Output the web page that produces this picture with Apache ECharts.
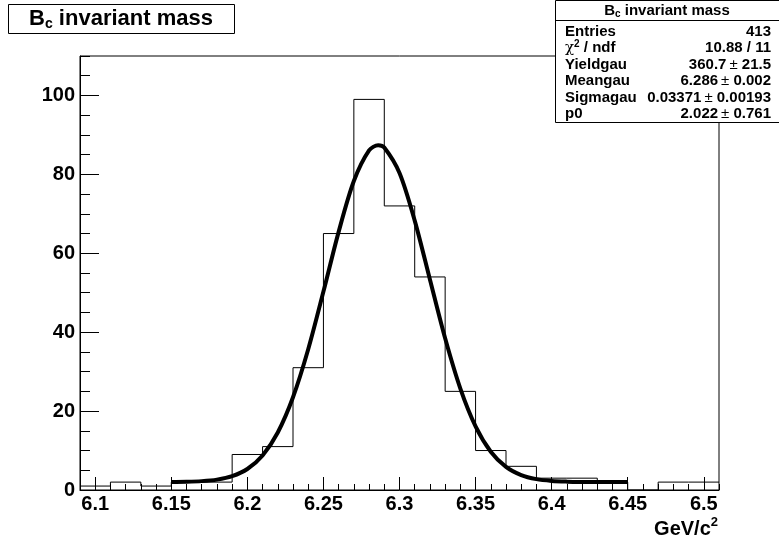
<!DOCTYPE html>
<html><head><meta charset="utf-8">
<script src="https://cdn.jsdelivr.net/npm/echarts@6/dist/echarts.min.js"></script>
<style>html,body{margin:0;padding:0;background:#fff}#c{width:779px;height:543px}</style>
</head><body><div id="c"></div>
<script>
// ---- data ----
const binLow = [6.09,6.11,6.13,6.15,6.17,6.19,6.21,6.23,6.25,6.27,6.29,6.31,6.33,6.35,6.37,6.39,6.41,6.43,6.45,6.47,6.49];
const binHigh = 6.51;
const counts = [1,2,1,2,2,9,11,31,65,99,72,54,25,10,6,3,3,2,0,2,2];
const fitX = [6.15,6.16,6.17,6.18,6.19,6.20,6.21,6.22,6.23,6.24,6.25,6.26,6.27,6.28,6.286,6.29,6.30,6.31,6.32,6.33,6.34,6.35,6.36,6.37,6.38,6.39,6.40,6.41,6.42,6.43,6.44,6.45];
const fitY = [2.05,2.10,2.25,2.63,3.50,5.32,8.75,14.58,23.50,35.67,50.28,65.43,78.30,86.05,87.39,86.79,80.34,68.28,53.35,38.44,25.69,16.10,9.69,5.85,3.77,2.75,2.30,2.12,2.05,2.03,2.02,2.02];
const xTickLabels = [6.1,6.15,6.2,6.25,6.3,6.35,6.4,6.45,6.5];
const yTickLabels = [0,20,40,60,80,100];
const statsLabels = ['Entries','χ2 / ndf','Yieldgau','Meangau','Sigmagau','p0'];
const statsValues = ['413','10.88 / 11','360.7 ± 21.5','6.286 ± 0.002','0.03371 ± 0.00193','2.022 ± 0.761'];

// ---- build ----
const histData = binLow.map((x,i)=>[x,counts[i]]);
histData.push([binHigh, counts[counts.length-1]]);
const fitData = fitX.map((x,i)=>[x,fitY[i]]);
const xMinor = [];
for (let k=610;k<=651;k++){const v=k/100; if(!xTickLabels.some(t=>Math.abs(t-v)<1e-9)) xMinor.push(v);}
const yMinor = [];
for (let v=5; v<=110; v+=5){ if(v%20!==0) yMinor.push(v); }

const FF = 'Liberation Sans, Arial, Helvetica, sans-serif';
const XMIN = 6.09, XMAX = 6.51, YMIN = 0, YMAX = 110;
const SF = 15;

const chart = echarts.init(document.getElementById('c'), null, {renderer:'canvas'});

function valueRich(v){
  if (v.indexOf('±')<0) return '{b|'+v+'}';
  const p = v.split('±');
  return '{b|'+p[0].trim()+'}{pm|±}{b| '+p[1].trim()+'}';
}
const richStats = {
  b:{fontFamily:FF, fontSize:SF, fontWeight:'bold', fill:'#000'},
  pm:{fontFamily:FF, fontSize:SF, fontWeight:'normal', fill:'#000', padding:[0,0,0,3]},
  g:{fontFamily:'DejaVu Serif, serif', fontSize:SF, fill:'#000'},
  s:{fontFamily:FF, fontSize:10, fontWeight:'bold', fill:'#000', padding:[0,0,7,0]}
};
const statsChildren = [];
const rowY0 = 31.5, rowStep = 16.5;
statsLabels.forEach((lab,i)=>{
  const y = rowY0 + i*rowStep;
  const txt = lab.startsWith('χ2') ? '{g|χ}{s|2}{b| / ndf}' : '{b|'+lab+'}';
  statsChildren.push({type:'text', x:565, y:y, style:{text:txt, rich:richStats, align:'left', verticalAlign:'middle'}});
  statsChildren.push({type:'text', x:771, y:y, style:{text:valueRich(statsValues[i]), rich:richStats, align:'right', verticalAlign:'middle'}});
});

const option = {
  animation:false,
  backgroundColor:'#fff',
  grid:{left:80, right:60, top:56, bottom:53, show:true, borderColor:'#000', borderWidth:1, backgroundColor:'transparent'},
  xAxis:[
    {type:'value', min:XMIN, max:XMAX, position:'bottom',
     axisLine:{show:true, onZero:false, lineStyle:{color:'#000', width:1}},
     axisTick:{show:true, inside:true, length:13, customValues:xTickLabels, lineStyle:{color:'#000'}},
     axisLabel:{show:true, customValues:xTickLabels, margin:4, fontFamily:FF, fontSize:20, fontWeight:'bold', color:'#000', formatter:v=>String(+v.toFixed(2))},
     splitLine:{show:false}},
    {type:'value', min:XMIN, max:XMAX, position:'bottom',
     axisLine:{show:false, onZero:false},
     axisTick:{show:true, inside:true, length:6, customValues:xMinor, lineStyle:{color:'#000'}},
     axisLabel:{show:false}, splitLine:{show:false}}
  ],
  yAxis:[
    {type:'value', min:YMIN, max:YMAX, position:'left',
     axisLine:{show:true, onZero:false, lineStyle:{color:'#000', width:1}},
     axisTick:{show:true, inside:true, length:19, customValues:yTickLabels, lineStyle:{color:'#000'}},
     axisLabel:{show:true, customValues:yTickLabels, margin:5, fontFamily:FF, fontSize:20, fontWeight:'bold', color:'#000'},
     splitLine:{show:false}},
    {type:'value', min:YMIN, max:YMAX, position:'left',
     axisLine:{show:false, onZero:false},
     axisTick:{show:true, inside:true, length:10, customValues:yMinor, lineStyle:{color:'#000'}},
     axisLabel:{show:false}, splitLine:{show:false}}
  ],
  series:[
    {type:'line', name:'hist', data:histData, step:'end', symbol:'none', xAxisIndex:0, yAxisIndex:0,
     lineStyle:{color:'#000', width:1}, clip:true, z:2},
    {type:'line', name:'fit', data:fitData, smooth:0.3, symbol:'none', xAxisIndex:0, yAxisIndex:0,
     lineStyle:{color:'#000', width:4, cap:'butt'}, clip:true, z:3}
  ],
  graphic:[
    {type:'rect', z:100, shape:{x:8.5, y:4.5, width:226, height:29}, style:{fill:'#fff', stroke:'#000', lineWidth:1}},
    {type:'text', z:101, x:121, y:19, style:{text:'{b|B}{s|c}{b| invariant mass}', align:'center', verticalAlign:'middle',
      rich:{b:{fontFamily:FF, fontSize:22, fontWeight:'bold', fill:'#000'}, s:{fontFamily:FF, fontSize:14, fontWeight:'bold', fill:'#000', padding:[11,0,0,0]}}}},
    {type:'group', z:100, children:[
      {type:'rect', shape:{x:555.5, y:0.5, width:225, height:122}, style:{fill:'#fff', stroke:'#000', lineWidth:1}},
      {type:'line', shape:{x1:555.5, y1:20.5, x2:779, y2:20.5}, style:{stroke:'#000', lineWidth:1}},
      {type:'text', x:667, y:11, style:{text:'{b|B}{s|c}{b| invariant mass}', align:'center', verticalAlign:'middle',
        rich:{b:{fontFamily:FF, fontSize:SF, fontWeight:'bold', fill:'#000'}, s:{fontFamily:FF, fontSize:10, fontWeight:'bold', fill:'#000', padding:[7,0,0,0]}}}},
      ...statsChildren
    ]},
    {type:'text', z:101, x:718, y:529, style:{text:'{b|GeV/c}{s|2}', align:'right', verticalAlign:'middle',
      rich:{b:{fontFamily:FF, fontSize:20, fontWeight:'bold', fill:'#000'}, s:{fontFamily:FF, fontSize:13, fontWeight:'bold', fill:'#000', padding:[0,0,14,0]}}}}
  ]
};
chart.setOption(option);
</script>
</body></html>
